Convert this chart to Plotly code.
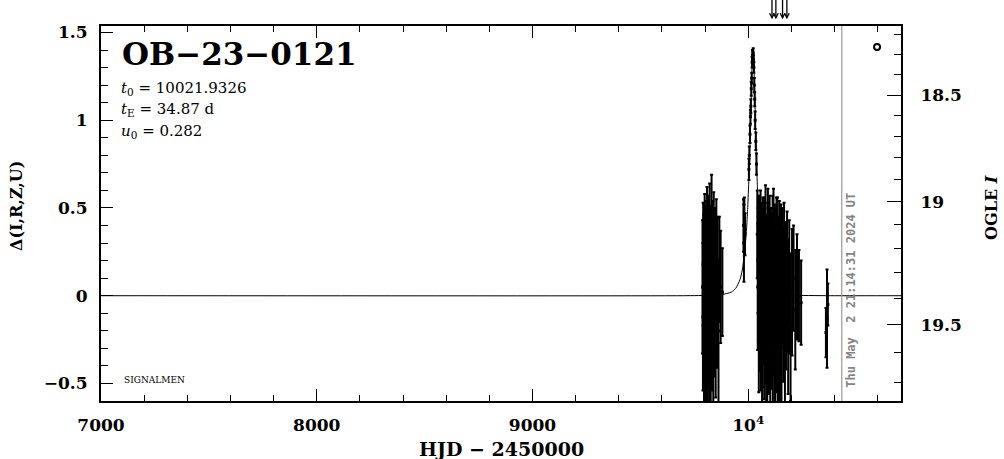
import math
import plotly.graph_objects as go

# ---------------- data ----------------
# season before the event
c1_t = [9788, 9790, 9791, 9793, 9794, 9795, 9797, 9798, 9799, 9801, 9802, 9803, 9805, 9806, 9807,
        9809, 9810, 9811, 9813, 9814, 9815, 9817, 9818, 9820, 9821, 9823, 9824, 9826, 9828, 9830,
        9832, 9834, 9836, 9838, 9840, 9843, 9846, 9849, 9852, 9855, 9858, 9862, 9866, 9872, 9880]
c1_d = [0.05, -0.12, 0.18, -0.05, 0.10, -0.22, 0.02, 0.25, -0.15, 0.08, -0.30, 0.15, -0.02, 0.20, -0.18,
        0.30, -0.08, 0.12, -0.25, 0.04, 0.22, -0.10, 0.06, -0.20, 0.28, -0.04, 0.14, -0.28, 0.10, 0.35,
        -0.12, 0.02, 0.18, -0.22, 0.26, -0.06, 0.12, -0.16, 0.20, -0.02, 0.08, -0.20, 0.15, 0.05, 0.02]
c1_e = [0.38, 0.42, 0.35, 0.40, 0.36, 0.45, 0.39, 0.33, 0.41, 0.37, 0.44, 0.36, 0.40, 0.34, 0.43,
        0.32, 0.39, 0.38, 0.46, 0.37, 0.35, 0.41, 0.38, 0.43, 0.36, 0.40, 0.37, 0.45, 0.39, 0.34,
        0.42, 0.38, 0.36, 0.44, 0.33, 0.40, 0.38, 0.42, 0.35, 0.39, 0.37, 0.41, 0.30, 0.32, 0.25]
# rising branch and peak
pk_t = [9978, 9980, 9982, 9985, 10003, 10005, 10008, 10010, 10012, 10014, 10016, 10018, 10020,
        10021, 10023, 10024, 10026, 10028, 10030, 10032, 10035, 10038]
pk_d = [0.40, 0.30, 0.46, 0.35, 0.72, 0.80, 0.92, 1.02, 1.08, 1.18, 1.24, 1.33, 1.37,
        1.36, 1.38, 1.34, 1.30, 1.20, 1.12, 1.00, 0.88, 0.75]
pk_e = [0.15, 0.22, 0.10, 0.12, 0.06, 0.05, 0.05, 0.04, 0.04, 0.04, 0.03, 0.03, 0.03,
        0.03, 0.03, 0.03, 0.03, 0.04, 0.04, 0.05, 0.05, 0.06]
# season after the peak
c2_t = [10042, 10044, 10045, 10047, 10049, 10050, 10052, 10054, 10055, 10057, 10059, 10060, 10063, 10064,
        10066, 10068, 10070, 10071, 10074, 10075, 10077, 10080, 10082, 10083, 10085, 10088, 10090, 10091,
        10093, 10096, 10097, 10099, 10102, 10104, 10105, 10108, 10111, 10113, 10114, 10117, 10120, 10122,
        10123, 10126, 10129, 10131, 10132, 10135, 10138, 10141, 10143, 10144, 10147, 10150, 10152, 10154,
        10158, 10162, 10166, 10170, 10175, 10180, 10185, 10190, 10196, 10203, 10210, 10218, 10226, 10235,
        10245]
c2_d = [0.35, 0.05, 0.20, 0.10, -0.15, 0.25, -0.05, 0.22, 0.15, 0.30, -0.12, 0.00, 0.18, -0.20,
        -0.10, 0.22, 0.02, 0.08, -0.15, 0.20, 0.12, 0.28, -0.05, -0.22, 0.06, -0.20, 0.15, 0.25,
        0.02, -0.12, 0.10, 0.20, -0.25, 0.05, 0.10, -0.08, 0.05, 0.22, -0.18, 0.25, -0.02, -0.20,
        0.12, -0.22, 0.08, 0.18, -0.10, 0.18, -0.30, 0.02, -0.15, 0.14, -0.15, 0.06, 0.16, -0.20,
        0.10, -0.05, 0.15, -0.25, 0.00, 0.08, -0.12, 0.05, -0.18, 0.02, 0.10, -0.08, 0.05, 0.00,
        -0.04]
c2_e = [0.25, 0.36, 0.30, 0.35, 0.40, 0.32, 0.38, 0.33, 0.36, 0.30, 0.42, 0.40, 0.35, 0.44,
        0.42, 0.34, 0.41, 0.40, 0.44, 0.36, 0.38, 0.35, 0.45, 0.46, 0.40, 0.46, 0.38, 0.36,
        0.42, 0.44, 0.40, 0.37, 0.48, 0.42, 0.40, 0.45, 0.42, 0.35, 0.46, 0.36, 0.44, 0.47,
        0.40, 0.47, 0.42, 0.38, 0.45, 0.38, 0.50, 0.43, 0.46, 0.40, 0.46, 0.42, 0.36, 0.47,
        0.40, 0.44, 0.38, 0.45, 0.42, 0.40, 0.44, 0.38, 0.42, 0.36, 0.30, 0.34, 0.30, 0.26,
        0.24]
# late points
c3_t = [10360, 10365, 10369]
c3_d = [-0.21, -0.13, -0.05]
c3_e = [0.14, 0.28, 0.12]
# points above the plotted range (drawn as arrows)
offscale_t = [10110, 10128, 10159, 10179]

# model light curve
model_t = [7000, 9700, 9822, 9872, 9922, 9942, 9962, 9972, 9982, 9992, 9997, 10002, 10007, 10009.5,
           10012, 10014.5, 10017, 10019.5, 10022, 10024.5, 10027, 10029.5, 10032, 10034.5, 10037,
           10042, 10047, 10052, 10062, 10072, 10082, 10102, 10122, 10172, 10222, 10400, 10708]
model_d = [0.0, 0.0, 0.002, 0.005, 0.021, 0.042, 0.093, 0.145, 0.231, 0.380, 0.490, 0.635, 0.822, 0.932,
           1.052, 1.175, 1.289, 1.374, 1.406, 1.374, 1.289, 1.175, 1.052, 0.932, 0.822,
           0.635, 0.490, 0.380, 0.231, 0.145, 0.093, 0.042, 0.021, 0.005, 0.002, 0.0, 0.0]

event_name = "OB\u221223\u22120121"
param_lines = ["<i>t</i><sub>0</sub> = 10021.9326",
               "<i>t</i><sub>E</sub> = 34.87 d",
               "<i>u</i><sub>0</sub> = 0.282"]
now_t = 10433.4
now_label = "Thu May\u00a0\u00a02 21:14:31 2024 UT"

x_tickvals = [7000, 8000, 9000, 10000]
x_ticktext = ["7000", "8000", "9000", "10<sup>4</sup>"]
y_tickvals = [-0.5, 0, 0.5, 1, 1.5]
y_ticktext = ["\u22120.5", "0", "0.5", "1", "1.5"]
mag_major = [18.5, 19.0, 19.5]
mag_major_text = ["18.5", "19", "19.5"]
mag_minor = [18.2, 18.3, 18.4, 18.6, 18.7, 18.8, 18.9, 19.1, 19.2, 19.3, 19.4, 19.6, 19.7]
I_base = 19.39
f_source = 0.68

X_RANGE = [7000, 10708]
Y_RANGE = [-0.6, 1.537]


def mag_to_delta(m):
    flux = 10 ** (-0.4 * (m - I_base))
    return 2.5 * math.log10((flux - (1 - f_source)) / f_source)


obs_t = c1_t + pk_t + c2_t + c3_t
obs_d = c1_d + pk_d + c2_d + c3_d
obs_e = c1_e + pk_e + c2_e + c3_e

SERIF = "DejaVu Serif"

fig = go.Figure()

# model
fig.add_trace(go.Scatter(x=model_t, y=model_d, mode="lines",
                         line=dict(color="black", width=1, shape="spline", smoothing=0.6),
                         hoverinfo="skip", showlegend=False))
# observations
fig.add_trace(go.Scatter(x=obs_t, y=obs_d, mode="markers",
                         marker=dict(color="black", size=3, symbol="square"),
                         error_y=dict(type="data", array=obs_e, visible=True, color="black",
                                      thickness=2, width=1.5),
                         showlegend=False))
# small circle symbol top right
fig.add_trace(go.Scatter(x=[10597], y=[1.418], mode="markers",
                         marker=dict(symbol="circle-open", size=6, color="black", line=dict(width=2)),
                         showlegend=False))
# invisible trace for the secondary axis
fig.add_trace(go.Scatter(x=[X_RANGE[0]], y=[0], yaxis="y2", mode="markers",
                         marker=dict(opacity=0), showlegend=False, hoverinfo="skip"))

# current date line
fig.add_shape(type="line", xref="x", yref="paper", x0=now_t, x1=now_t, y0=0, y1=1,
              line=dict(color="#999999", width=1.2))

# arrows for points above the plotted range
for t in offscale_t:
    fig.add_shape(type="line", xref="x", yref="paper", x0=t, x1=t, y0=1.022, y1=1.072,
                  line=dict(color="black", width=1.3))
    fig.add_shape(type="path", xref="x", yref="paper",
                  path=f"M {t - 11},1.034 L {t},1.022 L {t + 11},1.034",
                  line=dict(color="black", width=1.3))

tickfont = dict(family=SERIF, size=17, color="black", weight="bold")

fig.update_layout(
    width=1004, height=459,
    margin=dict(l=101, r=103, t=26, b=58),
    paper_bgcolor="white", plot_bgcolor="white",
    showlegend=False,
    xaxis=dict(range=X_RANGE, showgrid=False, zeroline=False,
               showline=True, linecolor="black", linewidth=2, mirror="ticks",
               ticks="inside", ticklen=12, tickwidth=1.2, tickcolor="black",
               tickmode="array", tickvals=x_tickvals, ticktext=x_ticktext,
               tickfont=tickfont, ticklabelstandoff=8,
               minor=dict(ticks="inside", ticklen=6, tickwidth=1.2, tickcolor="black",
                          dtick=200, tick0=7000, showgrid=False)),
    yaxis=dict(range=Y_RANGE, showgrid=False, zeroline=False,
               showline=True, linecolor="black", linewidth=2, mirror=False,
               ticks="inside", ticklen=12, tickwidth=1.2, tickcolor="black",
               tickmode="array", tickvals=y_tickvals, ticktext=y_ticktext,
               tickfont=tickfont, ticklabelstandoff=8,
               minor=dict(ticks="inside", ticklen=7, tickwidth=1.2, tickcolor="black",
                          dtick=0.1, tick0=0, showgrid=False)),
    yaxis2=dict(range=Y_RANGE, overlaying="y", side="right", anchor="x",
                showgrid=False, zeroline=False,
                showline=True, linecolor="black", linewidth=2,
                ticks="inside", ticklen=14, tickwidth=1.2, tickcolor="black",
                tickmode="array", tickvals=[mag_to_delta(m) for m in mag_major],
                ticktext=mag_major_text, tickfont=tickfont, ticklabelstandoff=14,
                minor=dict(ticks="inside", ticklen=7, tickwidth=1.2, tickcolor="black",
                           tickmode="array", tickvals=[mag_to_delta(m) for m in mag_minor],
                           showgrid=False)),
)

ann = []
ann.append(dict(text=event_name, xref="paper", yref="paper", x=0.024, y=0.925,
                xanchor="left", yanchor="middle", showarrow=False,
                font=dict(family=SERIF, size=31, color="black", weight="bold")))
for i, line in enumerate(param_lines):
    ann.append(dict(text=line, xref="paper", yref="paper", x=0.022, y=(401 - (88 + 21.5 * i)) / 375,
                    xanchor="left", yanchor="middle", showarrow=False,
                    font=dict(family=SERIF, size=15, color="black")))
ann.append(dict(text="SIGNALMEN", xref="paper", yref="paper", x=0.026, y=(401 - 380) / 375,
                xanchor="left", yanchor="middle", showarrow=False,
                font=dict(family=SERIF, size=9, color="black")))
ann.append(dict(text=now_label, xref="x", yref="paper", x=now_t, y=(401 - 290) / 375,
                xanchor="center", yanchor="middle", xshift=9, textangle=-90, showarrow=False,
                font=dict(family="DejaVu Sans Mono", size=12, color="#858585", weight="bold")))
ann.append(dict(text="HJD \u2212 2450000", xref="paper", yref="paper", x=0.5, y=-0.128,
                xanchor="center", yanchor="middle", showarrow=False,
                font=dict(family=SERIF, size=19, color="black", weight="bold")))
ann.append(dict(text="\u0394(I,R,Z,U)", xref="paper", yref="paper", x=(16 - 101) / 800, y=0.52,
                xanchor="center", yanchor="middle", textangle=-90, showarrow=False,
                font=dict(family=SERIF, size=16, color="black", weight="bold")))
ann.append(dict(text="OGLE <i>I</i>", xref="paper", yref="paper", x=(992 - 101) / 800, y=0.515,
                xanchor="center", yanchor="middle", textangle=-90, showarrow=False,
                font=dict(family=SERIF, size=16, color="black", weight="bold")))
fig.update_layout(annotations=ann)

# the page body normally adds an 8px margin; remove it so the figure fills the window exactly
fig.write_html("out.html", config={"displayModeBar": False},
               post_script="document.body.style.margin='0px';")
